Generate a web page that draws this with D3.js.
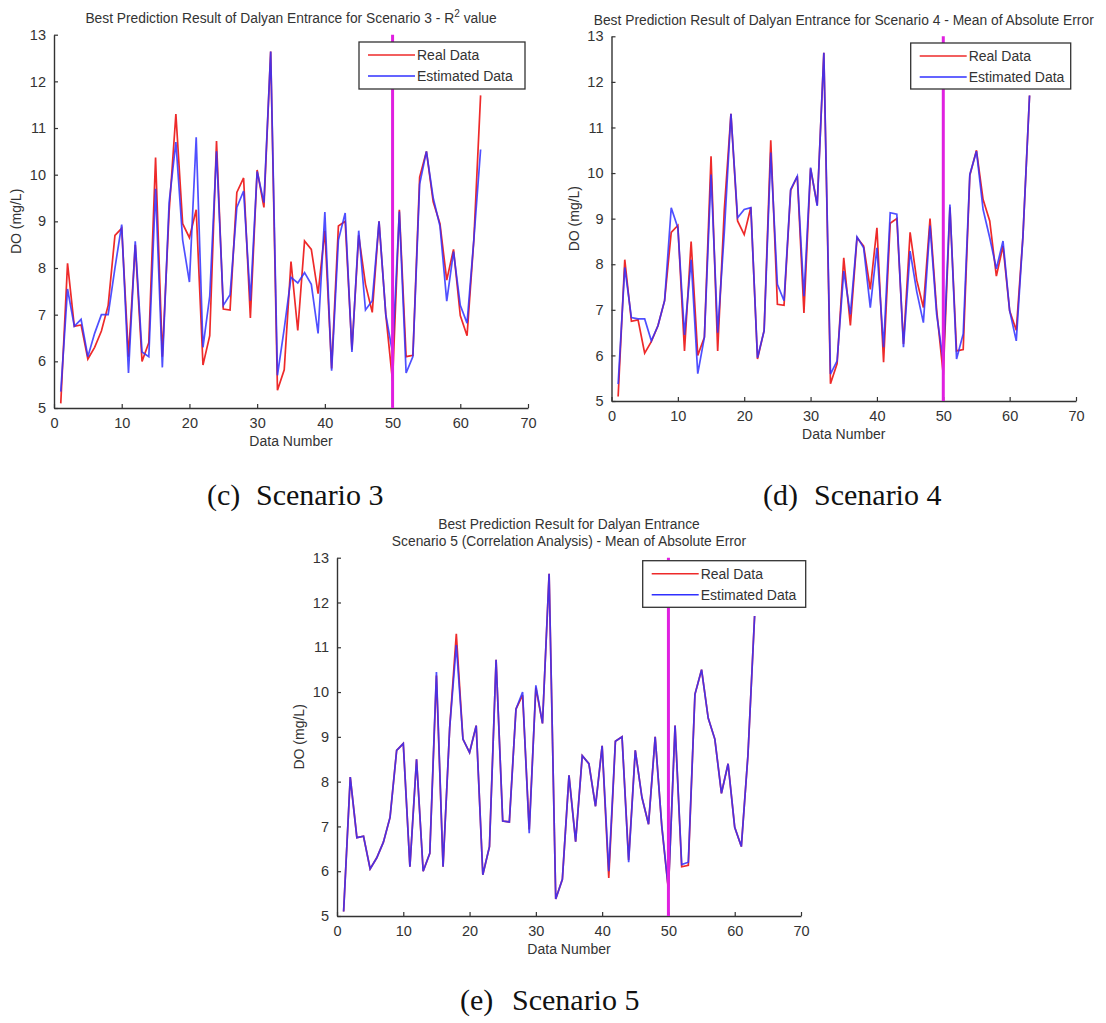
<!DOCTYPE html>
<html>
<head>
<meta charset="utf-8">
<script src="https://cdn.jsdelivr.net/npm/d3@7"></script>
<style>
  body { margin: 0; background: #fff; }
  svg { display: block; }
</style>
</head>
<body>
<svg id="chart" width="1106" height="1023"></svg>
<script>
// ---------- DATA ----------
const dataNumbers = d3.range(1, 64);
const realData = [5.1, 8.1, 6.75, 6.78, 6.05, 6.3, 6.65, 7.2, 8.7, 8.85,
  6.1, 8.5, 6.0, 6.4, 10.37, 6.1, 9.2, 11.3, 8.95, 8.65,
  9.25, 5.92, 6.55, 10.72, 7.12, 7.1, 9.62, 9.93, 6.93, 10.1,
  9.3, 12.64, 5.38, 5.82, 8.14, 6.66, 8.58, 8.4, 7.45, 8.8,
  5.85, 8.9, 9.0, 6.25, 8.7, 7.65, 7.05, 9.0, 7.0, 5.57,
  9.25, 6.1, 6.13, 9.95, 10.5, 9.42, 8.95, 7.74, 8.4, 6.98,
  6.55, 8.6, 11.7];
const estScenario3 = [5.35, 7.55, 6.75, 6.9, 6.1, 6.6, 7.0, 7.0, 8.0, 8.93,
  5.75, 8.57, 6.2, 6.1, 9.7, 5.87, 9.4, 10.7, 8.6, 7.7,
  10.8, 6.3, 7.4, 10.5, 7.2, 7.43, 9.3, 9.65, 7.3, 10.07,
  9.4, 12.64, 5.7, 6.7, 7.8, 7.68, 7.9, 7.65, 6.6, 9.2,
  5.8, 8.6, 9.18, 6.2, 8.8, 7.1, 7.3, 9.0, 7.0, 6.18,
  9.21, 5.75, 6.1, 9.8, 10.5, 9.5, 8.9, 7.29, 8.35, 7.2,
  6.82, 8.6, 10.54];
const estScenario4 = [5.37, 7.93, 6.83, 6.8, 6.8, 6.32, 6.65, 7.2, 9.24, 8.8,
  6.45, 8.1, 5.6, 6.4, 9.97, 6.5, 8.7, 11.3, 9.02, 9.2,
  9.24, 5.95, 6.54, 10.45, 7.56, 7.2, 9.64, 9.93, 7.3, 10.12,
  9.28, 12.64, 5.59, 5.88, 7.85, 6.9, 8.6, 8.36, 7.05, 8.36,
  6.18, 9.13, 9.1, 6.18, 8.29, 7.4, 6.72, 8.85, 6.9, 5.88,
  9.31, 5.92, 6.47, 9.97, 10.48, 9.2, 8.58, 7.9, 8.51, 6.98,
  6.32, 8.6, 11.7];
const estScenario5 = [5.1, 8.1, 6.75, 6.78, 6.05, 6.3, 6.65, 7.2, 8.7, 8.85,
  6.1, 8.5, 6.0, 6.4, 10.45, 6.1, 9.2, 11.05, 8.95, 8.65,
  9.25, 5.92, 6.55, 10.72, 7.12, 7.1, 9.62, 10.0, 6.85, 10.15,
  9.3, 12.64, 5.38, 5.82, 8.14, 6.66, 8.58, 8.4, 7.45, 8.8,
  6.0, 8.9, 9.0, 6.2, 8.7, 7.65, 7.05, 9.0, 7.0, 5.6,
  9.25, 6.15, 6.2, 9.95, 10.5, 9.42, 8.95, 7.74, 8.4, 6.98,
  6.55, 8.6, 11.7];

const xTicks = [0, 10, 20, 30, 40, 50, 60, 70];
const yTicks = [5, 6, 7, 8, 9, 10, 11, 12, 13];
const legendLabels = ["Real Data", "Estimated Data"];
const splitPoint = 50;

const panels = [
  { title: ["Best Prediction Result of Dalyan Entrance for Scenario 3 - R", "2", " value"],
    est: estScenario3, x0: 54, x1: 528, yTop: 34.7, yBot: 408,
    titleY: [23], legend: [359, 42, 166, 47],
    caption: ["(c)", "Scenario 3"], capX: [207, 256], capY: 505 },
  { title: ["Best Prediction Result of Dalyan Entrance for Scenario 4 - Mean of Absolute Error"],
    est: estScenario4, x0: 611.5, x1: 1076, yTop: 36.3, yBot: 401,
    titleY: [25], legend: [910.7, 43, 160, 46],
    caption: ["(d)", "Scenario 4"], capX: [763, 814], capY: 505 },
  { title: ["Best Prediction Result for Dalyan Entrance", "Scenario 5 (Correlation Analysis) - Mean of Absolute Error"],
    est: estScenario5, x0: 337, x1: 801, yTop: 557.7, yBot: 916,
    titleY: [529, 546], legend: [642.7, 560.7, 163, 46.6],
    caption: ["(e)", "Scenario 5"], capX: [460, 512], capY: 1010 }
];

const svg = d3.select("#chart");
const sans = "'Liberation Sans', Arial, sans-serif";
const axisColor = "#333";

panels.forEach((p, i) => {
  const x = d3.scaleLinear().domain([0, 70]).range([p.x0, p.x1]);
  const y = d3.scaleLinear().domain([5, 13]).range([p.yBot, p.yTop]);
  const g = svg.append("g");

  // axes (MATLAB style: ticks inside)
  const xAxis = d3.axisBottom(x).tickValues(xTicks).tickSizeInner(-4).tickSizeOuter(0).tickPadding(10);
  const yAxis = d3.axisLeft(y).tickValues(yTicks).tickSizeInner(-4).tickSizeOuter(0).tickPadding(8);

  const gx = g.append("g").attr("transform", `translate(0,${p.yBot})`).call(xAxis);
  const gy = g.append("g").attr("transform", `translate(${p.x0},0)`).call(yAxis);
  [gx, gy].forEach(a => {
    a.select(".domain").attr("stroke", axisColor).attr("stroke-width", 1.4);
    a.selectAll(".tick line").attr("stroke", axisColor).attr("stroke-width", 1.2);
    a.selectAll(".tick text").attr("fill", "#333").style("font-family", sans).style("font-size", "14.5px");
  });

  // lines
  const line = d3.line().x((d, k) => x(dataNumbers[k])).y(d => y(d));
  g.append("path").datum(realData).attr("d", line)
    .attr("fill", "none").attr("stroke", "#ee2a2a").attr("stroke-width", 1.7);
  g.append("path").datum(p.est).attr("d", line)
    .attr("fill", "none").attr("stroke", "#3030ff").attr("stroke-width", 1.7).attr("stroke-opacity", 0.85);

  // split line
  g.append("line").attr("x1", x(splitPoint)).attr("x2", x(splitPoint))
    .attr("y1", y(13)).attr("y2", y(5))
    .attr("stroke", "#e020e0").attr("stroke-width", 3);

  // legend
  const [lx, ly, lw, lh] = p.legend;
  const lg = g.append("g");
  lg.append("rect").attr("x", lx).attr("y", ly).attr("width", lw).attr("height", lh)
    .attr("fill", "#fff").attr("stroke", "#333").attr("stroke-width", 1.3);
  const colors = ["#ee2a2a", "#3030ff"];
  legendLabels.forEach((lab, k) => {
    const yy = ly + 13 + k * 21;
    lg.append("line").attr("x1", lx + 9).attr("x2", lx + 56).attr("y1", yy).attr("y2", yy)
      .attr("stroke", colors[k]).attr("stroke-width", 1.6);
    lg.append("text").attr("x", lx + 58).attr("y", yy + 5).text(lab)
      .attr("fill", "#333").style("font-family", sans).style("font-size", "14px");
  });

  // title
  const cx = (p.x0 + p.x1) / 2;
  if (i === 0) {
    const t = g.append("text").attr("x", cx).attr("y", p.titleY[0]).attr("text-anchor", "middle")
      .attr("fill", "#333").style("font-family", sans).style("font-size", "13.8px");
    t.append("tspan").text(p.title[0]);
    t.append("tspan").attr("dy", -6).style("font-size", "10px").text(p.title[1]);
    t.append("tspan").attr("dy", 6).text(p.title[2]);
  } else {
    p.title.forEach((tt, k) => {
      g.append("text").attr("x", cx).attr("y", p.titleY[k]).attr("text-anchor", "middle")
        .attr("fill", "#333").style("font-family", sans).style("font-size", "13.8px").text(tt);
    });
  }

  // axis labels
  g.append("text").attr("x", cx).attr("y", p.yBot + 38).attr("text-anchor", "middle")
    .attr("fill", "#333").style("font-family", sans).style("font-size", "14px").text("Data Number");
  g.append("text").attr("transform", `translate(${p.x0 - 33},${(p.yTop + p.yBot) / 2}) rotate(-90)`)
    .attr("text-anchor", "middle").attr("fill", "#333")
    .style("font-family", sans).style("font-size", "14px").text("DO (mg/L)");

  // caption
  p.caption.forEach((c, k) => {
    g.append("text").attr("x", p.capX[k]).attr("y", p.capY).text(c)
      .attr("fill", "#111").style("font-family", "'Liberation Serif', 'Times New Roman', serif")
      .style("font-size", "30px");
  });
});
</script>
</body>
</html>
